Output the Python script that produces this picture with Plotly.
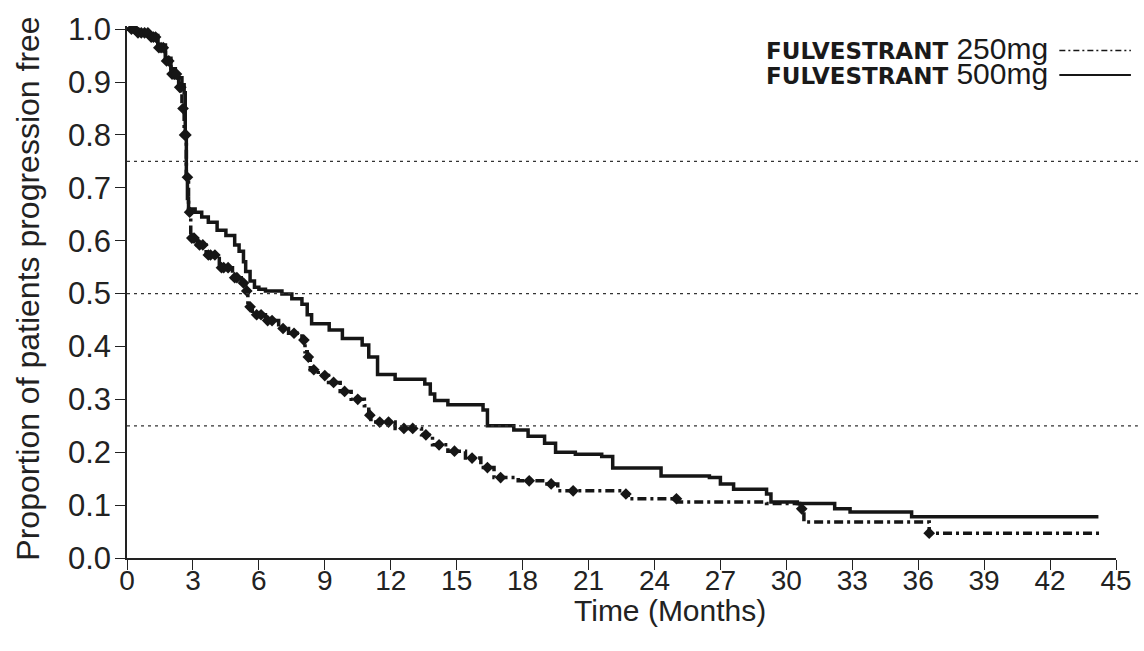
import plotly.graph_objects as go

# Kaplan-Meier step points: time (months) and proportion progression free
t_500 = [0, 0.5, 1.0, 1.4, 1.75, 2.0, 2.2, 2.5, 2.6, 2.65, 2.7, 2.75, 2.8, 3.1, 3.4, 3.7, 4.1, 4.5, 4.9, 5.1,
         5.3, 5.4, 5.6, 5.8, 6.0, 6.3, 7.05, 7.5, 7.96, 8.2, 8.4, 9.2, 9.8, 10.7, 11.0, 11.4, 12.2, 13.55, 13.8, 14.0,
         14.6, 16.2, 16.4, 17.6, 18.25, 19.0, 19.5, 20.4, 21.6, 22.1, 24.3, 26.5, 27.0, 27.6, 29.1, 29.3, 30.5, 32.2,
         32.9, 35.7, 44.2]
s_500 = [1.0, 0.995, 0.988, 0.97, 0.945, 0.925, 0.908, 0.895, 0.88, 0.80, 0.72, 0.68, 0.66, 0.654, 0.645, 0.635,
         0.62, 0.61, 0.592, 0.58, 0.56, 0.542, 0.524, 0.512, 0.508, 0.505, 0.499, 0.49, 0.48, 0.46, 0.443, 0.431,
         0.415, 0.403, 0.38, 0.347, 0.338, 0.329, 0.31, 0.298, 0.29, 0.28, 0.25, 0.242, 0.23, 0.217, 0.20, 0.196,
         0.192, 0.17, 0.155, 0.152, 0.14, 0.13, 0.121, 0.106, 0.103, 0.093, 0.087, 0.078, 0.078]

t_250 = [0, 0.5, 1.0, 1.4, 1.75, 2.0, 2.35, 2.5, 2.6, 2.7, 2.8, 2.9, 3.2, 3.6, 4.2, 4.8, 5.2, 5.4, 5.5, 5.7,
         6.3, 6.9, 7.35, 7.96, 8.1, 8.2, 8.34, 8.7, 9.17, 9.7, 10.2, 10.8, 11.0, 11.1, 12.2, 13.4, 13.9, 14.6, 15.4,
         16.1, 16.7, 17.8, 19.0, 19.6, 22.6, 22.8, 25.06, 29.1, 30.6, 30.8, 36.5, 44.35]
s_250 = [1.0, 0.993, 0.985, 0.965, 0.94, 0.915, 0.89, 0.85, 0.80, 0.72, 0.654, 0.605, 0.592, 0.573, 0.549, 0.53,
         0.52, 0.505, 0.475, 0.46, 0.449, 0.434, 0.425, 0.412, 0.39, 0.38, 0.356, 0.345, 0.332, 0.315, 0.30, 0.288,
         0.27, 0.257, 0.245, 0.233, 0.214, 0.202, 0.189, 0.171, 0.152, 0.146, 0.14, 0.127, 0.121, 0.112, 0.106,
         0.103, 0.093, 0.068, 0.047, 0.047]

# censoring times on the 250 mg arm
cens_250 = [0.2, 0.35, 0.5, 0.65, 0.8, 0.95, 1.1, 1.2, 1.3, 1.45, 1.55, 1.65, 1.8, 1.9, 2.05, 2.15, 2.25, 2.4,
            2.45, 2.55, 2.62, 2.68, 2.75, 2.85, 2.95, 3.05, 3.3, 3.45, 3.7, 3.8, 4.0, 4.3, 4.4, 4.6, 4.9, 5.0,
            5.3, 5.45, 5.6, 5.9, 6.1, 6.4, 6.6, 7.1, 7.6, 8.05, 8.25, 8.5, 9.0, 9.4, 9.9, 10.5, 11.05, 11.5, 11.9,
            12.6, 13.0, 13.6, 14.2, 14.9, 15.7, 16.4, 17.0, 18.3, 19.3, 20.3, 22.7, 25.0, 30.7, 36.5]

x_ticks = list(range(0, 46, 3))
y_ticks = [0.0, 0.1, 0.2, 0.3, 0.4, 0.5, 0.6, 0.7, 0.8, 0.9, 1.0]
y_tick_text = ["0.0", "0.1", "0.2", "0.3", "0.4", "0.5", "0.6", "0.7", "0.8", "0.9", "1.0"]
ref_levels = [0.25, 0.5, 0.75]
drug = "FULVESTRANT"
doses = ["250mg", "500mg"]
x_title = "Time (Months)"
y_title = "Proportion of patients progression free"


def km_at(times, surv, c):
    """Value of a KM step function at time c."""
    val = surv[0]
    for t, s in zip(times, surv):
        if t <= c:
            val = s
    return val


cens_250_s = [km_at(t_250, s_250, c) for c in cens_250]

W, H = 1144, 651
ML, MR, MT, MB = 127, 22, 14, 93
PW, PH = W - ML - MR, H - MT - MB


def px(xp):
    return (xp - ML) / PW


def py(yp):
    return (H - MB - yp) / PH


INK = "#161616"
FONT = "Liberation Sans, Arial"

fig = go.Figure()

fig.add_trace(go.Scatter(
    x=t_500, y=s_500, mode="lines", line=dict(color=INK, width=3.5, shape="hv"),
    showlegend=False, hoverinfo="skip"))

fig.add_trace(go.Scatter(
    x=t_250, y=s_250, mode="lines", line=dict(color=INK, width=3.5, shape="hv", dash="9px,4px,3px,4px"),
    showlegend=False, hoverinfo="skip"))

fig.add_trace(go.Scatter(
    x=cens_250, y=cens_250_s, mode="markers",
    marker=dict(symbol="diamond", size=9, color=INK, line=dict(width=0)),
    showlegend=False, hoverinfo="skip"))

shapes = []
for lvl in ref_levels:
    shapes.append(dict(type="line", xref="paper", yref="y", x0=0, x1=px(W), y0=lvl, y1=lvl,
                       line=dict(color="#333333", width=1.3, dash="3px,4px")))

# legend samples, drawn to the right of the labels
shapes.append(dict(type="line", xref="paper", yref="paper", x0=px(1065), x1=px(1137), y0=py(39), y1=py(39),
                   line=dict(color=INK, width=1.6, dash="6px,3px,2px,3px")))
shapes.append(dict(type="line", xref="paper", yref="paper", x0=px(1065), x1=px(1137), y0=py(64), y1=py(64),
                   line=dict(color=INK, width=2)))

# two-row legend label: bold drug name followed by the dose
legend_rows = [
    "<span style='font-family:DejaVu Sans;font-weight:bold;font-size:23px'>%s</span>"
    "<span style='font-size:30px'> %s</span>" % (drug, dose)
    for dose in doses
]

annotations = [dict(
    xref="paper", yref="paper", x=px(768), y=py(50), xanchor="left", yanchor="middle", align="left",
    showarrow=False, text="<br>".join(legend_rows),
    font=dict(family=FONT, size=19.5, color="#1a1a1a"))]

annotations.append(dict(
    xref="paper", yref="paper", x=px(673), y=py(612), xanchor="center", yanchor="middle",
    showarrow=False, text=x_title, font=dict(family=FONT, size=30, color="#222222")))

annotations.append(dict(
    xref="paper", yref="paper", x=px(27), y=py(283), xanchor="center", yanchor="middle",
    textangle=-90, showarrow=False, text=y_title,
    font=dict(family=FONT, size=32, color="#222222")))

fig.update_layout(
    width=W, height=H,
    margin=dict(l=ML, r=MR, t=MT, b=MB, pad=0),
    paper_bgcolor="white", plot_bgcolor="white",
    shapes=shapes, annotations=annotations,
    xaxis=dict(range=[0, 45], tickvals=x_ticks, ticks="outside", ticklen=10, tickwidth=1.3,
               tickcolor="#222222", showline=True, linecolor="#222222", linewidth=1.5,
               showgrid=False, zeroline=False, ticklabelstandoff=-13, ticklabeloverflow="allow",
               tickfont=dict(family=FONT, size=28, color="#222222")),
    yaxis=dict(range=[0, 1.006], tickvals=y_ticks, ticktext=y_tick_text, ticks="outside", ticklen=10,
               tickwidth=1.3, tickcolor="#222222", showline=True, linecolor="#222222", linewidth=1.5,
               showgrid=False, zeroline=False, ticklabelstandoff=-2, ticklabeloverflow="allow",
               tickfont=dict(family=FONT, size=31, color="#222222")),
)

fig.write_html("out.html")
